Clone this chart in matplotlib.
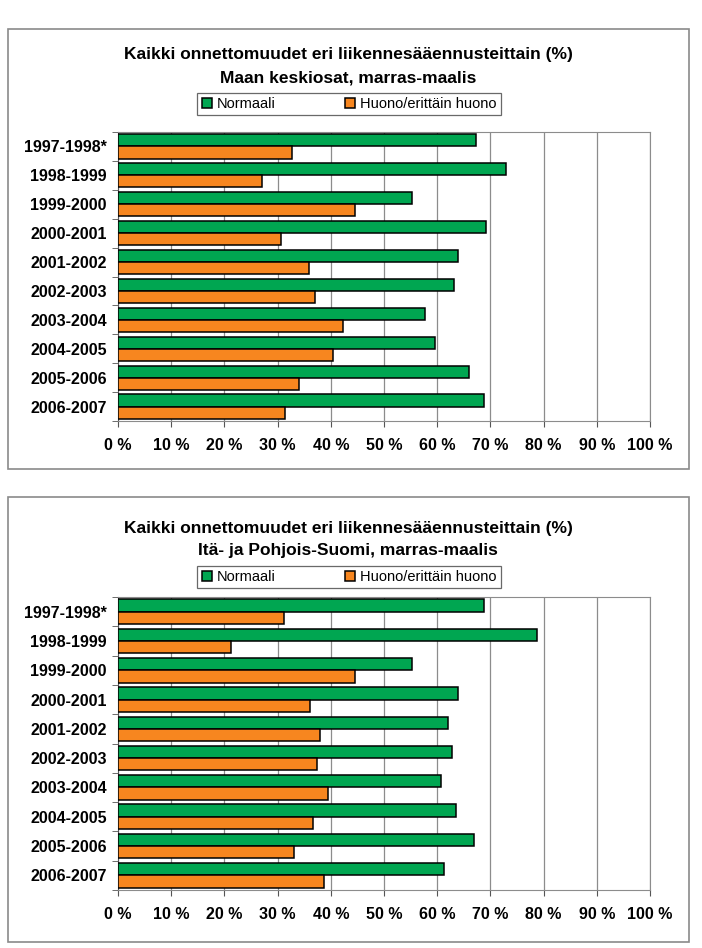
import matplotlib
matplotlib.use("Agg")
import numpy as np
import matplotlib.pyplot as plt
from matplotlib.patches import Rectangle

plt.rcParams["font.family"] = ["Liberation Sans", "DejaVu Sans"]

FIG_W, FIG_H = 702, 948

SEASONS = ["1997-1998*", "1998-1999", "1999-2000", "2000-2001", "2001-2002",
           "2002-2003", "2003-2004", "2004-2005", "2005-2006", "2006-2007"]
SERIES_NAMES = ["Normaali", "Huono/erittäin huono"]

# Maan keskiosat
central_normal = [67.3, 72.9, 55.3, 69.2, 64.0, 63.1, 57.8, 59.6, 66.0, 68.8]
central_bad = [32.7, 27.1, 44.6, 30.7, 35.9, 37.0, 42.3, 40.4, 34.1, 31.3]

# Itä- ja Pohjois-Suomi
north_normal = [68.8, 78.8, 55.3, 63.9, 62.0, 62.7, 60.7, 63.5, 67.0, 61.2]
north_bad = [31.2, 21.2, 44.6, 36.1, 38.0, 37.4, 39.5, 36.6, 33.1, 38.8]

TITLE_1 = "Kaikki onnettomuudet eri liikennesääennusteittain (%)"
SUBTITLES = ["Maan keskiosat, marras-maalis", "Itä- ja Pohjois-Suomi, marras-maalis"]

GREEN = "#00a651"
ORANGE = "#f7861f"
GRID = "#8c8c8c"


def fx(px):
    return px / FIG_W


def fy(py):
    return 1 - py / FIG_H


fig = plt.figure(figsize=(FIG_W / 100, FIG_H / 100), dpi=100)

# pixel layout of each panel: frame top/bottom, title y, legend y, axes top/bottom
panels = [
    dict(frame=(29, 469), title=55, sub=78, legend=104, ax=(132, 421),
         data=(central_normal, central_bad), sub_text=SUBTITLES[0]),
    dict(frame=(497, 942), title=528, sub=551, legend=577, ax=(597, 890),
         data=(north_normal, north_bad), sub_text=SUBTITLES[1]),
]

ax_left, ax_right = 118, 650

for p in panels:
    ft, fb = p["frame"]
    fig.patches.append(Rectangle((fx(8), fy(fb)), fx(681), (fb - ft) / FIG_H,
                                 transform=fig.transFigure, facecolor="none",
                                 edgecolor="#8a8a8a", linewidth=1.2, zorder=-1))
    fig.text(fx(348), fy(p["title"]), TITLE_1, ha="center", va="center",
             fontsize=12.5, fontweight="bold")
    fig.text(fx(348), fy(p["sub"]), p["sub_text"], ha="center", va="center",
             fontsize=12.5, fontweight="bold")

    at, ab = p["ax"]
    ax = fig.add_axes([fx(ax_left), fy(ab), fx(ax_right - ax_left), (ab - at) / FIG_H])
    ax.set_zorder(2)
    normal, bad = p["data"]
    y = np.arange(len(SEASONS))
    h = 0.42
    b1 = ax.barh(y - h / 2, normal, height=h, color=GREEN, edgecolor="black",
                 linewidth=1.1, zorder=3, label=SERIES_NAMES[0])
    b2 = ax.barh(y + h / 2, bad, height=h, color=ORANGE, edgecolor="black",
                 linewidth=1.1, zorder=3, label=SERIES_NAMES[1])

    ax.set_xlim(0, 100)
    ax.set_ylim(len(SEASONS) - 0.5, -0.5)
    ax.set_xticks(np.arange(0, 101, 10))
    ax.set_xticklabels([f"{v} %" for v in range(0, 101, 10)], fontsize=11.5,
                       fontweight="bold")
    ax.set_yticks(y)
    ax.set_yticklabels(SEASONS, fontsize=11.5, fontweight="bold")
    ax.set_yticks(np.arange(-0.5, len(SEASONS), 1), minor=True)
    ax.tick_params(axis="y", which="major", length=0, pad=8)
    ax.tick_params(axis="y", which="minor", length=4, color="#555555")
    ax.tick_params(axis="x", length=4, color="#555555", pad=8)
    ax.grid(axis="x", color=GRID, linewidth=0.9, zorder=0)
    ax.set_axisbelow(True)
    for side in ["top", "right", "bottom"]:
        ax.spines[side].set_color(GRID)
    ax.spines["left"].set_color("#555555")

    leg = fig.legend(handles=[b1, b2], loc="center",
                     bbox_to_anchor=(fx(349), fy(p["legend"])), ncol=2,
                     fontsize=10.5, frameon=True, fancybox=False,
                     edgecolor="#444444", handlelength=0.7, handleheight=0.7,
                     columnspacing=4.8, handletextpad=0.3,
                     borderpad=0.3, borderaxespad=0)
    leg.get_frame().set_linewidth(0.9)

fig.savefig("out.png", dpi=100)
